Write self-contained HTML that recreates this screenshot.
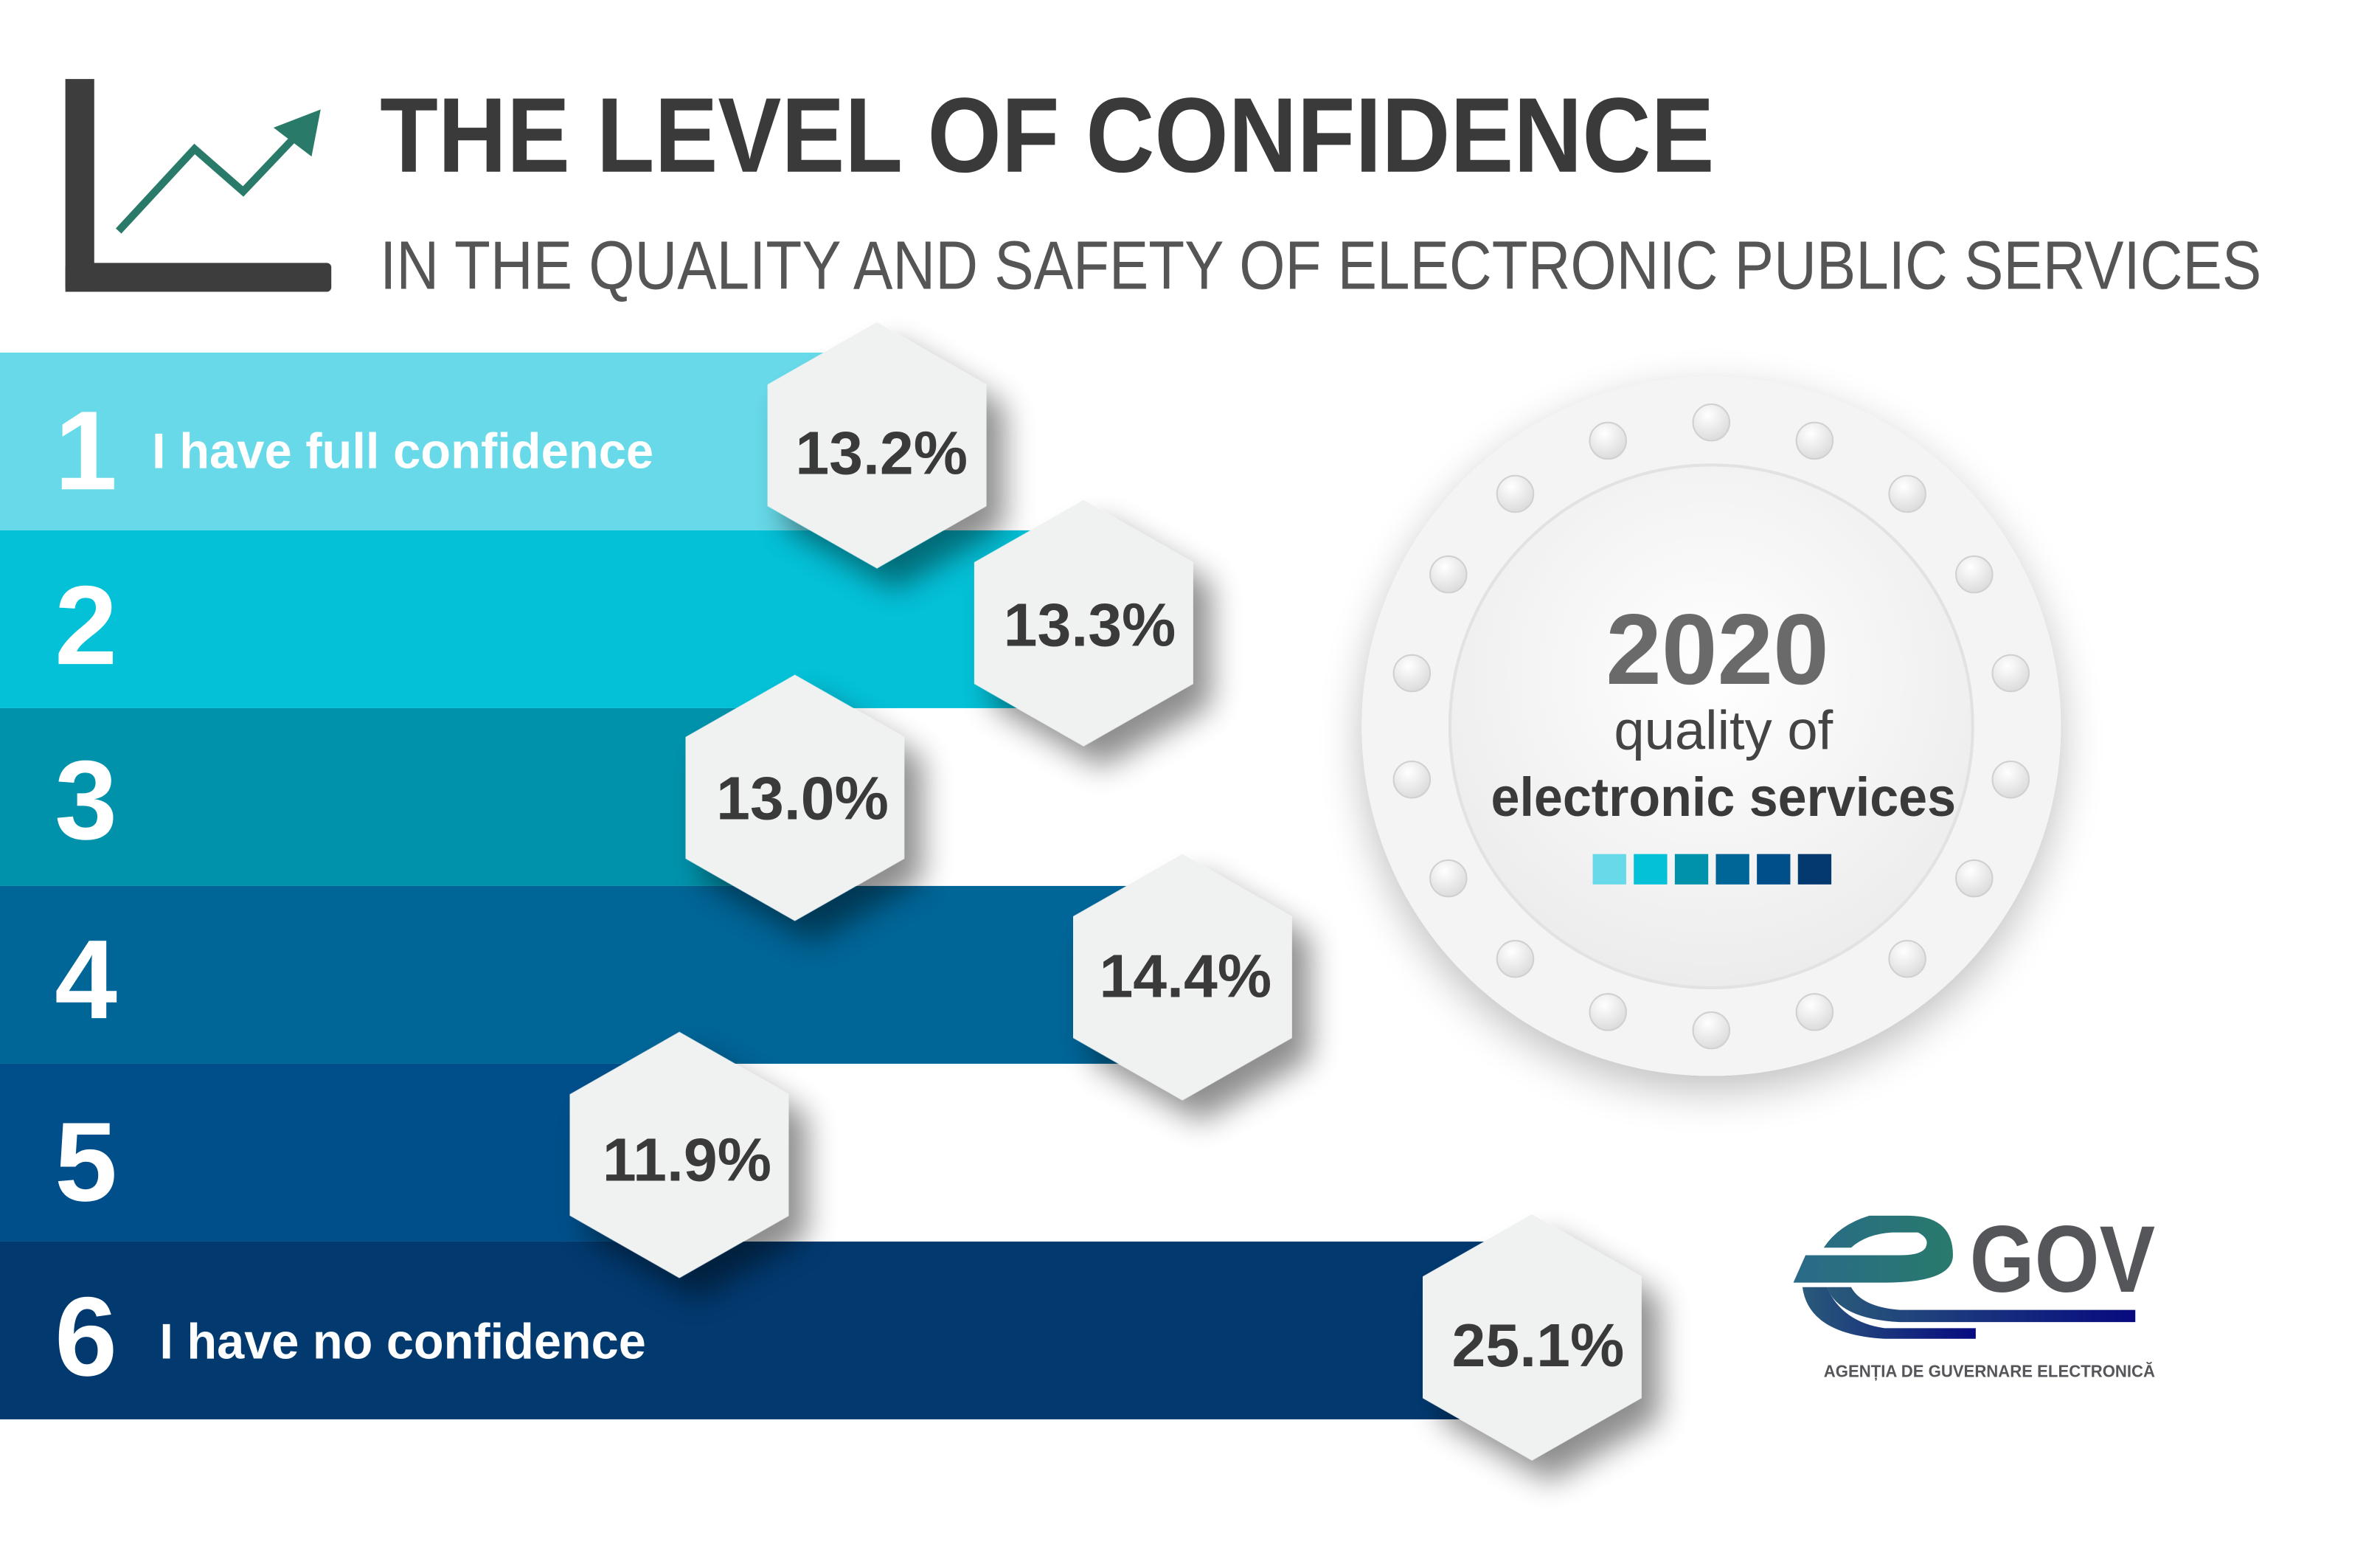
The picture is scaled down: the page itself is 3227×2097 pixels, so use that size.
<!DOCTYPE html>
<html><head><meta charset="utf-8"><style>
html,body{margin:0;padding:0;background:#fff;width:3227px;height:2097px;overflow:hidden}
svg{display:block}
text{font-family:"Liberation Sans",sans-serif}
</style></head><body>
<svg width="3227" height="2097" viewBox="0 0 1566 1018" preserveAspectRatio="none" xmlns="http://www.w3.org/2000/svg">
<defs>
<filter id="sh" x="-50%" y="-50%" width="200%" height="200%"><feGaussianBlur in="SourceAlpha" stdDeviation="10"/><feOffset dx="12" dy="14"/><feComponentTransfer><feFuncA type="linear" slope="0.45"/></feComponentTransfer><feMerge><feMergeNode/><feMergeNode in="SourceGraphic"/></feMerge></filter>
<filter id="csh" x="-50%" y="-50%" width="200%" height="200%"><feGaussianBlur in="SourceAlpha" stdDeviation="14"/><feOffset dx="0" dy="10"/><feComponentTransfer><feFuncA type="linear" slope="0.25"/></feComponentTransfer><feMerge><feMergeNode/><feMergeNode in="SourceGraphic"/></feMerge></filter>
<radialGradient id="ig" cx="0.5" cy="0.4" r="0.6"><stop offset="0" stop-color="#ffffff"/><stop offset="1" stop-color="#ececec"/></radialGradient>
<radialGradient id="dg" cx="0.4" cy="0.3" r="0.7"><stop offset="0" stop-color="#ffffff"/><stop offset="1" stop-color="#dcdcdc"/></radialGradient>
<linearGradient id="lg1" x1="0" x2="1"><stop offset="0" stop-color="#2a6a8a"/><stop offset="1" stop-color="#287a6c"/></linearGradient>
<linearGradient id="lg2" x1="0" x2="1"><stop offset="0" stop-color="#2a5a7a"/><stop offset="1" stop-color="#070a80"/></linearGradient>
</defs>
<rect x="43" y="52" width="19" height="140" fill="#3d3d3d"/>
<rect x="43" y="173" width="175" height="19" rx="3" fill="#3d3d3d"/>
<polyline points="78,152 128,98 160,126 198,86" fill="none" stroke="#2a7a6a" stroke-width="5"/>
<polygon points="211,72 205,103 180,84" fill="#2a7a6a"/>
<text x="250" y="113" font-size="70" font-weight="bold" fill="#3a3a3a" textLength="878" lengthAdjust="spacingAndGlyphs">THE LEVEL OF CONFIDENCE</text>
<text x="250" y="190" font-size="45" fill="#555" textLength="1238" lengthAdjust="spacingAndGlyphs">IN THE QUALITY AND SAFETY OF ELECTRONIC PUBLIC SERVICES</text>
<rect x="0" y="232" width="560" height="117" fill="#67d9e8"/>
<rect x="0" y="349" width="700" height="117" fill="#04c1d8"/>
<rect x="0" y="466" width="520" height="117" fill="#0092ab"/>
<rect x="0" y="583" width="760" height="117" fill="#006597"/>
<rect x="0" y="700" width="440" height="117" fill="#004f8a"/>
<rect x="0" y="817" width="1000" height="117" fill="#023a70"/>
<g fill="#fff" font-weight="bold">
<text x="36" y="322" font-size="74">1</text>
<text x="36" y="437" font-size="74">2</text>
<text x="36" y="552" font-size="74">3</text>
<text x="36" y="670" font-size="74">4</text>
<text x="36" y="790" font-size="74">5</text>
<text x="36" y="905" font-size="74">6</text>
<text x="100" y="308" font-size="33" textLength="330" lengthAdjust="spacingAndGlyphs">I have full confidence</text>
<text x="105" y="894" font-size="33" textLength="320" lengthAdjust="spacingAndGlyphs">I have no confidence</text>
</g>
<g fill="#f0f1f1" filter="url(#sh)">
<polygon points="0,-81 72,-40 72,40 0,81 -72,40 -72,-40" transform="translate(577,293)"/>
<polygon points="0,-81 72,-40 72,40 0,81 -72,40 -72,-40" transform="translate(713,410)"/>
<polygon points="0,-81 72,-40 72,40 0,81 -72,40 -72,-40" transform="translate(523,525)"/>
<polygon points="0,-81 72,-40 72,40 0,81 -72,40 -72,-40" transform="translate(778,643)"/>
<polygon points="0,-81 72,-40 72,40 0,81 -72,40 -72,-40" transform="translate(447,760)"/>
<polygon points="0,-81 72,-40 72,40 0,81 -72,40 -72,-40" transform="translate(1008,880)"/>
</g>
<g fill="#3a3a3a" font-weight="bold" font-size="40" text-anchor="middle">
<text x="580" y="312">13.2%</text>
<text x="717" y="425">13.3%</text>
<text x="528" y="539">13.0%</text>
<text x="780" y="656">14.4%</text>
<text x="452" y="777">11.9%</text>
<text x="1012" y="899">25.1%</text>
</g>
<circle cx="1126" cy="478" r="230" fill="#f4f4f4" filter="url(#csh)"/>
<circle cx="1126" cy="478" r="172" fill="url(#ig)" stroke="#e2e2e2" stroke-width="2"/>
<g fill="url(#dg)" stroke="#d0d0d0" stroke-width="1">
<circle cx="1126" cy="278" r="12"/><circle cx="1194" cy="290" r="12"/><circle cx="1255" cy="325" r="12"/><circle cx="1299" cy="378" r="12"/><circle cx="1323" cy="443" r="12"/><circle cx="1323" cy="513" r="12"/><circle cx="1299" cy="578" r="12"/><circle cx="1255" cy="631" r="12"/><circle cx="1194" cy="666" r="12"/><circle cx="1126" cy="678" r="12"/><circle cx="1058" cy="666" r="12"/><circle cx="997" cy="631" r="12"/><circle cx="953" cy="578" r="12"/><circle cx="929" cy="513" r="12"/><circle cx="929" cy="443" r="12"/><circle cx="953" cy="378" r="12"/><circle cx="997" cy="325" r="12"/><circle cx="1058" cy="290" r="12"/>
</g>
<text x="1130" y="450" font-size="66" font-weight="bold" fill="#6a6a6a" text-anchor="middle">2020</text>
<text x="1134" y="493" font-size="36" fill="#444" text-anchor="middle">quality of</text>
<text x="1134" y="537" font-size="36" font-weight="bold" fill="#3a3a3a" text-anchor="middle" textLength="306" lengthAdjust="spacingAndGlyphs">electronic services</text>
<rect x="1048" y="562" width="22" height="20" fill="#67d9e8"/>
<rect x="1075" y="562" width="22" height="20" fill="#04c1d8"/>
<rect x="1102" y="562" width="22" height="20" fill="#0092ab"/>
<rect x="1129" y="562" width="22" height="20" fill="#006597"/>
<rect x="1156" y="562" width="22" height="20" fill="#004f8a"/>
<rect x="1183" y="562" width="22" height="20" fill="#023a70"/>
<path d="M1180,844 L1240,844 Q1285,844 1285,826 Q1285,800 1255,800 L1230,800 Q1210,806 1200,821 L1218,821 Q1228,812 1245,811 L1262,811 Q1270,815 1267,821 Q1264,826 1250,826 L1188,826 Z" fill="url(#lg1)"/>
<path d="M1202,847 Q1210,868 1250,870 L1405,870 L1405,862 L1250,862 Q1225,860 1218,847 Z" fill="url(#lg2)"/>
<path d="M1186,847 Q1190,878 1240,881 L1300,881 L1300,874 L1240,874 Q1212,870 1202,847 Z" fill="url(#lg2)"/>
<text x="1296" y="850" font-size="62" font-weight="bold" fill="#55565a" textLength="122" lengthAdjust="spacingAndGlyphs">GOV</text>
<text x="1200" y="906" font-size="11" font-weight="bold" fill="#55565a" textLength="218" lengthAdjust="spacingAndGlyphs">AGENȚIA DE GUVERNARE ELECTRONICĂ</text>
</svg>
</body></html>
